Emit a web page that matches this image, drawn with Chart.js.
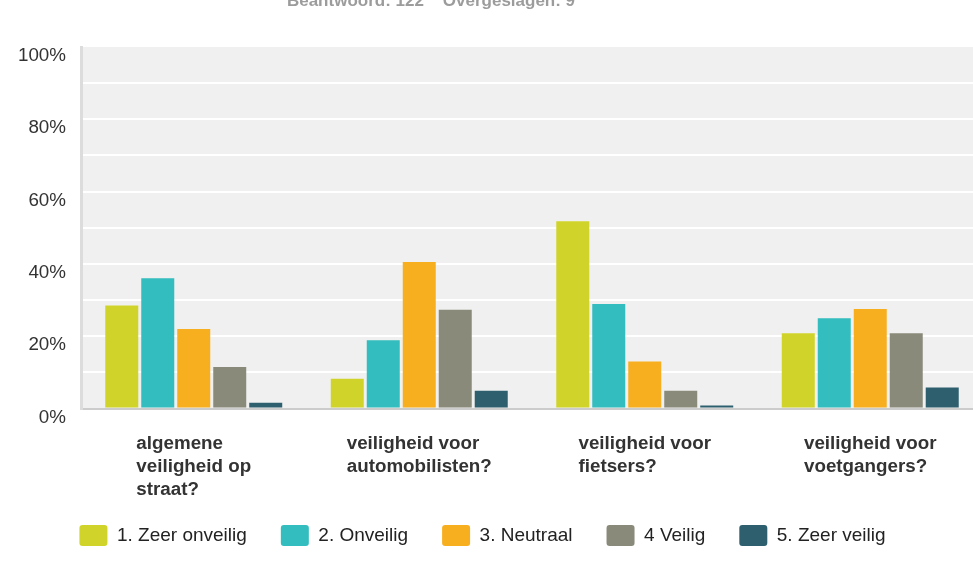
<!DOCTYPE html>
<html>
<head>
<meta charset="utf-8">
<script src="https://cdn.jsdelivr.net/npm/chart.js@4.4.1/dist/chart.umd.min.js"></script>
<style>
    html, body { margin: 0; padding: 0; background: #fff; overflow: hidden; }
    canvas { display: block; }
</style>
</head>
<body>
<canvas id="chart1" width="983" height="568"></canvas>
<script>
const categories = [
    ['algemene', 'veiligheid op', 'straat?'],
    ['veiligheid voor', 'automobilisten?'],
    ['veiligheid voor', 'fietsers?'],
    ['veiligheid voor', 'voetgangers?']
];
const seriesNames = ['1. Zeer onveilig', '2. Onveilig', '3. Neutraal', '4 Veilig', '5. Zeer veilig'];
const zeerOnveilig = [28.5, 8.2, 51.8, 20.8];
const onveilig = [36.0, 18.9, 28.9, 25.0];
const neutraal = [22.0, 40.5, 13.0, 27.5];
const veilig = [11.5, 27.3, 4.9, 20.8];
const zeerVeilig = [1.6, 4.9, 0.8, 5.8];
const yTickLabels = [0, 20, 40, 60, 80, 100];
const headerText = 'Beantwoord: 122    Overgeslagen: 9';

const colors = ['#d0d42a', '#33bdbf', '#f7af1f', '#8a8a7a', '#2e5f6e'];
const seriesValues = [zeerOnveilig, onveilig, neutraal, veilig, zeerVeilig];

// grey plot background behind the grid
const plotBackground = {
    id: 'plotBackground',
    beforeDraw(chart) {
        const {ctx, chartArea: a} = chart;
        ctx.save();
        ctx.fillStyle = '#f0f0f0';
        ctx.fillRect(a.left, a.top, a.right - a.left, a.bottom - a.top);
        ctx.restore();
    }
};

// legend sits a bit left of the canvas centre
const legendShift = {
    id: 'legendShift',
    afterLayout(chart) {
        chart.legend.left -= 9;
        chart.legend.right -= 9;
    }
};

// category labels: left-aligned lines, block centred under each group + header text
const categoryLabels = {
    id: 'categoryLabels',
    afterDraw(chart) {
        const {ctx} = chart;
        const xScale = chart.scales.x;
        ctx.save();
        ctx.font = 'bold 18.8px "Liberation Sans", Arial, sans-serif';
        ctx.fillStyle = '#333';
        ctx.textAlign = 'left';
        ctx.textBaseline = 'alphabetic';
        categories.forEach((lines, i) => {
            const center = xScale.getPixelForTick(i);
            const w = Math.max(...lines.map(l => ctx.measureText(l).width));
            lines.forEach((line, j) => {
                ctx.fillText(line, center - w / 2, xScale.top + 40 + j * 23);
            });
        });
        ctx.font = 'bold 17px "Liberation Sans", Arial, sans-serif';
        ctx.fillStyle = '#9c9c9c';
        ctx.textAlign = 'center';
        ctx.fillText(headerText, 431, 6);
        ctx.restore();
    }
};

const ctx = document.getElementById('chart1').getContext('2d');

const chart1 = new Chart(ctx, {
    type: 'bar',
    data: {
        labels: categories,
        datasets: seriesNames.map((name, i) => ({
            label: name,
            data: seriesValues[i],
            backgroundColor: colors[i],
            borderWidth: 0,
            barPercentage: 0.917,
            categoryPercentage: 0.798
        }))
    },
    options: {
        responsive: false,
        animation: false,
        layout: {
            padding: { top: 47, bottom: 12, left: 0, right: 0 }
        },
        scales: {
            x: {
                grid: { display: false },
                border: { color: '#cccccc', width: 2 },
                ticks: { display: false },
                afterFit(scale) { scale.height = 82.5; }
            },
            y: {
                min: 0,
                max: 100,
                grid: {
                    color: c => (c.tick.value === 0 || c.tick.value === 100) ? 'rgba(0,0,0,0)' : '#ffffff',
                    lineWidth: 2,
                    drawTicks: false
                },
                border: { color: '#dcdcdc', width: 3 },
                ticks: {
                    stepSize: 10,
                    padding: 15,
                    labelOffset: 9,
                    color: '#333',
                    font: { family: '"Liberation Sans", Arial, sans-serif', size: 18.8 },
                    callback: v => yTickLabels.includes(v) ? v + '%' : ''
                },
                afterFit(scale) { scale.width = 81; }
            }
        },
        plugins: {
            legend: {
                display: true,
                position: 'bottom',
                labels: {
                    boxWidth: 28,
                    boxHeight: 21,
                    padding: 34,
                    useBorderRadius: true,
                    borderRadius: 3,
                    color: '#222',
                    font: { family: '"Liberation Sans", Arial, sans-serif', size: 19 }
                }
            },
            tooltip: { enabled: false }
        }
    },
    plugins: [plotBackground, legendShift, categoryLabels]
});
</script>
</body>
</html>
